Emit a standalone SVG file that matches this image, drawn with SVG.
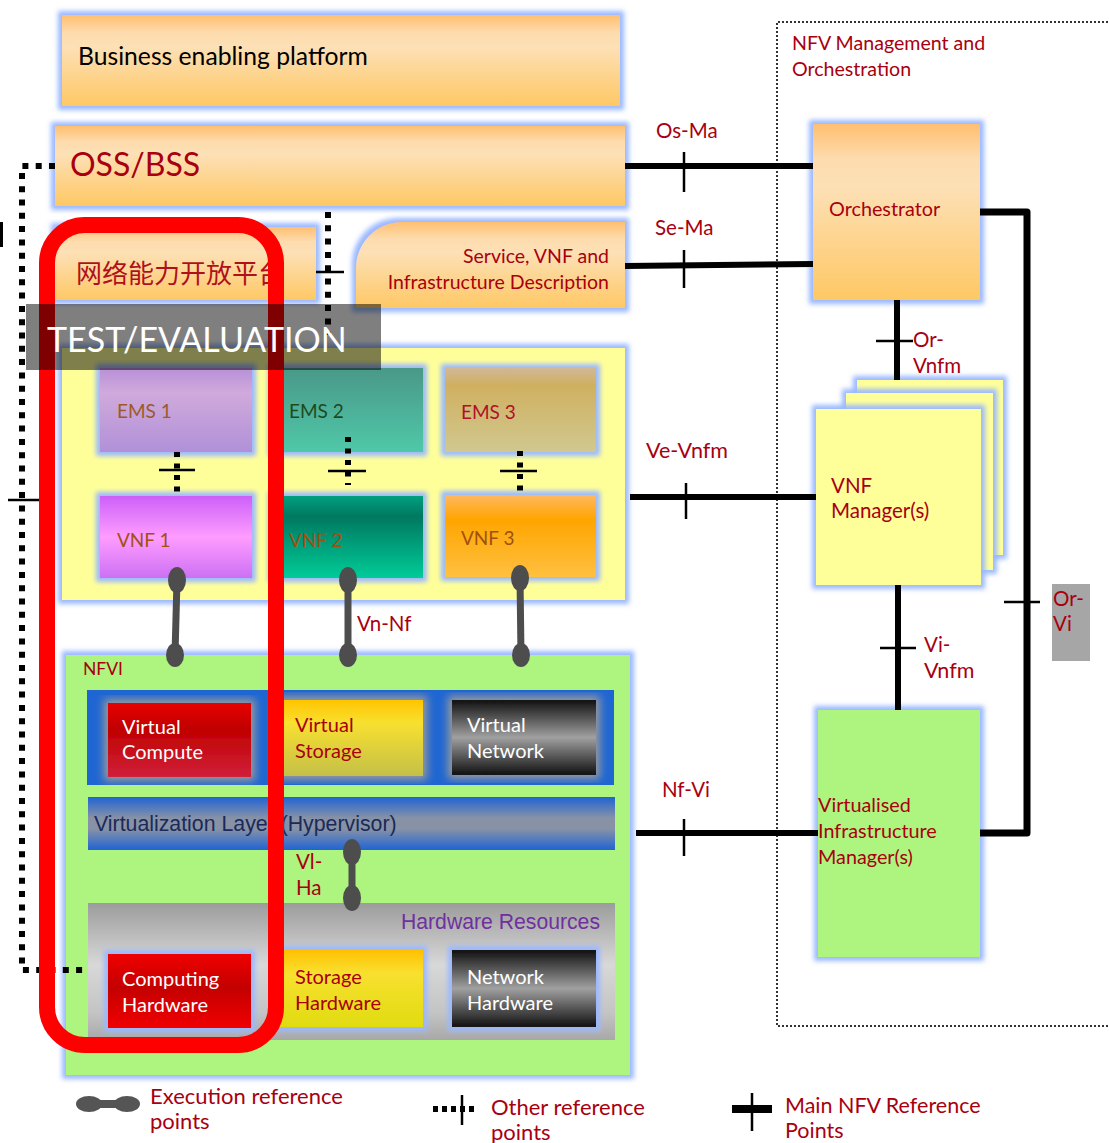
<svg xmlns="http://www.w3.org/2000/svg" width="1109" height="1143" viewBox="0 0 1109 1143">
<defs>
<style>
.t{font-family:Lato,"Liberation Sans",sans-serif;fill:#a8000f;}
.a{font-family:"Liberation Sans",Arial,sans-serif;}
.w{fill:#ffffff;}
.lb{font-size:20.5px;}
.bx{font-size:20px;}
.lg{font-size:22px;}
.main{stroke:#000;stroke-width:6;fill:none;}
.tick{stroke:#000;stroke-width:2.5;fill:none;}
.dot{stroke:#000;stroke-width:6;fill:none;stroke-dasharray:6 7.3;}
.dot2{stroke:#000;stroke-width:6;fill:none;stroke-dasharray:5 6.5;}
.exe{stroke:#4d4d4d;stroke-width:7;fill:none;}
.exeE{fill:#4d4d4d;}
</style>
<filter id="glow" x="-10%" y="-10%" width="120%" height="120%">
<feMorphology in="SourceAlpha" operator="dilate" radius="4" result="d"/>
<feGaussianBlur in="d" stdDeviation="2.5" result="b"/>
<feFlood flood-color="#9ab8ff"/>
<feComposite in2="b" operator="in" result="g"/>
<feMerge><feMergeNode in="g"/><feMergeNode in="SourceGraphic"/></feMerge>
</filter>
<filter id="glowG" x="-10%" y="-10%" width="120%" height="120%">
<feMorphology in="SourceAlpha" operator="dilate" radius="4" result="d"/>
<feGaussianBlur in="d" stdDeviation="4" result="b"/>
<feFlood flood-color="#9a9a9a"/>
<feComposite in2="b" operator="in" result="g"/>
<feMerge><feMergeNode in="g"/><feMergeNode in="SourceGraphic"/></feMerge>
</filter>
<linearGradient id="org" x1="0" y1="0" x2="0" y2="1">
<stop offset="0" stop-color="#ffbf70"/><stop offset="0.2" stop-color="#fddcae"/><stop offset="0.35" stop-color="#fde0b6"/><stop offset="1" stop-color="#fec864"/>
</linearGradient>
<linearGradient id="ems1" x1="0" y1="0" x2="0" y2="1"><stop offset="0" stop-color="#b890d8"/><stop offset="0.3" stop-color="#d0aadc"/><stop offset="1" stop-color="#b090d8"/></linearGradient>
<linearGradient id="ems2" x1="0" y1="0" x2="0" y2="1"><stop offset="0" stop-color="#4a9888"/><stop offset="1" stop-color="#50c8a8"/></linearGradient>
<linearGradient id="ems3" x1="0" y1="0" x2="0" y2="1"><stop offset="0" stop-color="#d0b898"/><stop offset="0.2" stop-color="#d0b060"/><stop offset="1" stop-color="#d0c890"/></linearGradient>
<linearGradient id="vnf1" x1="0" y1="0" x2="0" y2="1"><stop offset="0" stop-color="#cc60f8"/><stop offset="0.5" stop-color="#ff9cff"/><stop offset="1" stop-color="#cc70f4"/></linearGradient>
<linearGradient id="vnf2" x1="0" y1="0" x2="0" y2="1"><stop offset="0" stop-color="#00a080"/><stop offset="0.25" stop-color="#007860"/><stop offset="1" stop-color="#00cc98"/></linearGradient>
<linearGradient id="vnf3" x1="0" y1="0" x2="0" y2="1"><stop offset="0" stop-color="#ffb860"/><stop offset="0.3" stop-color="#ffa500"/><stop offset="1" stop-color="#ffc040"/></linearGradient>
<linearGradient id="red" x1="0" y1="0" x2="0" y2="1"><stop offset="0" stop-color="#e80000"/><stop offset="0.35" stop-color="#c00000"/><stop offset="1" stop-color="#d0203a"/></linearGradient>
<linearGradient id="red2" x1="0" y1="0" x2="0" y2="1"><stop offset="0" stop-color="#f00000"/><stop offset="0.45" stop-color="#c40000"/><stop offset="1" stop-color="#f00000"/></linearGradient>
<linearGradient id="yel" x1="0" y1="0" x2="0" y2="1"><stop offset="0" stop-color="#ffc400"/><stop offset="0.3" stop-color="#f8e030"/><stop offset="1" stop-color="#c4c048"/></linearGradient>
<linearGradient id="yel2" x1="0" y1="0" x2="0" y2="1"><stop offset="0" stop-color="#ffc000"/><stop offset="0.3" stop-color="#f8e030"/><stop offset="1" stop-color="#e0dc10"/></linearGradient>
<linearGradient id="blk" x1="0" y1="0" x2="0" y2="1"><stop offset="0" stop-color="#101010"/><stop offset="0.5" stop-color="#a0a0a0"/><stop offset="1" stop-color="#101010"/></linearGradient>
<linearGradient id="bar" x1="0" y1="0" x2="0" y2="1"><stop offset="0" stop-color="#1f64d4"/><stop offset="0.4" stop-color="#8892a6"/><stop offset="0.6" stop-color="#8892a6"/><stop offset="1" stop-color="#1f64d4"/></linearGradient>
<linearGradient id="hw" x1="0" y1="0" x2="0" y2="1"><stop offset="0" stop-color="#9c9c9c"/><stop offset="0.45" stop-color="#d8d8d8"/><stop offset="0.8" stop-color="#c4c4c4"/><stop offset="1" stop-color="#a8a8a8"/></linearGradient>
</defs>
<rect width="1109" height="1143" fill="#ffffff"/>

<g id="mano">
<path d="M1112,22 H777 V1026 H1112" fill="none" stroke="#333" stroke-width="2" stroke-dasharray="2 2"/>
<text class="t" x="792" y="50" font-size="19.6">NFV Management and</text>
<text class="t" x="792" y="76" font-size="19.6">Orchestration</text>
</g>

<g id="business">
<rect x="62" y="15" width="558" height="91" fill="url(#org)" filter="url(#glow)"/>
<text x="78" y="65" font-size="24.7" font-family="Lato,'Liberation Sans',sans-serif" fill="#000">Business enabling platform</text>
</g>
<g id="ossbss">
<rect x="55" y="126" width="570" height="80" fill="url(#org)" filter="url(#glow)"/>
<text class="t" x="70" y="176" font-size="32">OSS/BSS</text>
</g>
<g id="capability">
<rect x="55" y="227" width="261" height="73" fill="url(#org)" filter="url(#glow)"/>
<text x="76" y="283" font-size="26" font-family="'Noto Sans CJK SC',sans-serif" fill="#b0101a">网络能力开放平台</text>
</g>
<g id="description">
<path d="M402,222 H625 V308 H356 V268 A46,46 0 0 1 402,222 Z" fill="url(#org)" filter="url(#glow)"/>
<text class="t" x="609" y="263" font-size="19.5" text-anchor="end">Service, VNF and</text>
<text class="t" x="609" y="289" font-size="19.5" text-anchor="end">Infrastructure Description</text>
</g>

<g id="vnf-area">
<rect x="62" y="348" width="563" height="252" fill="#ffff99" filter="url(#glow)"/>
</g>
<g id="ems1"><rect x="100" y="368" width="152" height="84" fill="url(#ems1)" filter="url(#glow)"/><text x="117" y="418" font-size="19" font-family="Lato,sans-serif" fill="#9c5a28">EMS 1</text></g>
<g id="ems2"><rect x="272" y="368" width="151" height="84" fill="url(#ems2)" filter="url(#glow)"/><text x="289" y="418" font-size="19" font-family="Lato,sans-serif" fill="#1e4a1e">EMS 2</text></g>
<g id="ems3"><rect x="445" y="368" width="151" height="84" fill="url(#ems3)" filter="url(#glow)"/><text x="461" y="419" font-size="19" font-family="Lato,sans-serif" fill="#b0102a">EMS 3</text></g>
<g id="vnf1"><rect x="100" y="496" width="152" height="82" fill="url(#vnf1)" filter="url(#glow)"/><text x="117" y="547" font-size="19" font-family="Lato,sans-serif" fill="#a05010">VNF 1</text></g>
<g id="vnf2"><rect x="272" y="496" width="151" height="82" fill="url(#vnf2)" filter="url(#glow)"/><text x="289" y="547" font-size="19" font-family="Lato,sans-serif" fill="#a05010">VNF 2</text></g>
<g id="vnf3"><rect x="445" y="495" width="151" height="82" fill="url(#vnf3)" filter="url(#glow)"/><text x="461" y="545" font-size="19" font-family="Lato,sans-serif" fill="#a05010">VNF 3</text></g>

<g id="nfvi">
<rect x="66" y="655" width="564" height="420" fill="#aef57f" filter="url(#glow)"/>
<text class="t" x="83" y="675" font-size="17.5">NFVI</text>
</g>
<g id="virtual-resources">
<rect x="87" y="690" width="527" height="95" fill="#1f66d2"/>
</g>
<g id="vcompute"><rect x="108" y="703" width="143" height="74" fill="url(#red)" filter="url(#glowG)"/><text class="t w bx" x="122" y="734">Virtual</text><text class="t w bx" x="122" y="759">Compute</text></g>
<g id="vstorage"><rect x="280" y="700" width="143" height="76" fill="url(#yel)" filter="url(#glowG)"/><text class="t bx" x="295" y="732">Virtual</text><text class="t bx" x="295" y="758">Storage</text></g>
<g id="vnetwork"><rect x="452" y="700" width="144" height="75" fill="url(#blk)" filter="url(#glowG)"/><text class="t w bx" x="467" y="732">Virtual</text><text class="t w bx" x="467" y="758">Network</text></g>

<g id="hypervisor">
<rect x="88" y="797" width="527" height="53" fill="url(#bar)"/>
<text class="a" x="94" y="831" font-size="21.3" fill="#1a2a5a">Virtualization Layer (Hypervisor)</text>
</g>

<g id="hardware">
<rect x="88" y="903" width="527" height="137" fill="url(#hw)"/>
<text class="a" x="600" y="929" font-size="21.2" fill="#7030a0" text-anchor="end">Hardware Resources</text>
</g>
<g id="chw"><rect x="108" y="954" width="143" height="74" fill="url(#red2)" filter="url(#glow)"/><text class="t w bx" x="122" y="986">Computing</text><text class="t w bx" x="122" y="1012">Hardware</text></g>
<g id="shw"><rect x="280" y="950" width="143" height="77" fill="url(#yel2)" filter="url(#glow)"/><text class="t bx" x="295" y="984">Storage</text><text class="t bx" x="295" y="1010">Hardware</text></g>
<g id="nhw"><rect x="452" y="950" width="144" height="77" fill="url(#blk)" filter="url(#glow)"/><text class="t w bx" x="467" y="984">Network</text><text class="t w bx" x="467" y="1010">Hardware</text></g>

<g id="orchestrator">
<rect x="813" y="124" width="167" height="176" fill="url(#org)" filter="url(#glow)"/>
<text class="t" x="829" y="216" font-size="19.8">Orchestrator</text>
</g>
<g id="vnfm">
<rect x="857" y="380" width="146" height="175" fill="#ffff99" filter="url(#glow)"/>
<rect x="846" y="393" width="147" height="177" fill="#ffff99" filter="url(#glow)"/>
<rect x="816" y="409" width="165" height="176" fill="#ffff99" filter="url(#glow)"/>
<text class="t" x="831" y="493" font-size="20.5">VNF</text>
<text class="t" x="831" y="518" font-size="20.5">Manager(s)</text>
</g>
<g id="vim">
<rect x="818" y="710" width="162" height="247" fill="#aef57f" filter="url(#glow)"/>
<text class="t" x="818" y="812" font-size="19.8">Virtualised</text>
<text class="t" x="818" y="838" font-size="19.8">Infrastructure</text>
<text class="t" x="818" y="864" font-size="19.8">Manager(s)</text>
</g>

<g id="connectors">
<line class="main" x1="625" y1="166" x2="813" y2="166"/>
<line class="tick" x1="684" y1="152" x2="684" y2="192"/>
<text class="t lb" x="656" y="138">Os-Ma</text>
<line class="main" x1="625" y1="266" x2="813" y2="264"/>
<line class="tick" x1="684" y1="250" x2="684" y2="288"/>
<text class="t lb" x="655" y="235">Se-Ma</text>
<line class="main" x1="897" y1="300" x2="897" y2="380"/>
<line class="tick" x1="876" y1="341" x2="913" y2="341"/>
<text class="t lb" x="913" y="347">Or-</text>
<text class="t lb" x="913" y="373">Vnfm</text>
<line class="main" x1="630" y1="497" x2="816" y2="497"/>
<line class="tick" x1="686" y1="483" x2="686" y2="519"/>
<text class="t" x="646" y="458" font-size="21.5">Ve-Vnfm</text>
<line class="main" x1="898" y1="585" x2="898" y2="710"/>
<line class="tick" x1="880" y1="648" x2="916" y2="648"/>
<text class="t lb" x="924" y="652">Vi-</text>
<text class="t" x="924" y="678" font-size="21.5">Vnfm</text>
<line class="main" x1="636" y1="833" x2="818" y2="833"/>
<line class="tick" x1="684" y1="819" x2="684" y2="856"/>
<text class="t lb" x="662" y="797">Nf-Vi</text>
<path d="M980,212 H1027 V833 H980" stroke="#000" stroke-width="7" fill="none" stroke-linejoin="round"/>
<line class="tick" x1="1004" y1="602" x2="1040" y2="602"/>
<rect x="1052" y="584" width="38" height="77" fill="#a6a6a6"/>
<text class="t lb" x="1053" y="606">Or-</text>
<text class="t lb" x="1053" y="631">Vi</text>
<path class="dot" d="M55,166 H22 V970 H88"/>
<line class="tick" x1="8" y1="500" x2="40" y2="500"/>
<rect x="0" y="222" width="3" height="25" fill="#000"/>
<line class="dot" x1="328" y1="212" x2="328" y2="335"/>
<line class="tick" x1="316" y1="272" x2="344" y2="272"/>
<line class="dot2" x1="177" y1="452" x2="177" y2="496"/>
<line class="tick" x1="159" y1="470" x2="195" y2="470"/>
<line class="dot2" x1="348" y1="437" x2="348" y2="485"/>
<line class="tick" x1="328" y1="471" x2="366" y2="471"/>
<line class="dot2" x1="520" y1="451" x2="520" y2="496"/>
<line class="tick" x1="500" y1="471" x2="537" y2="471"/>
<line class="exe" x1="177" y1="580" x2="175" y2="655"/>
<ellipse class="exeE" cx="177" cy="580" rx="9" ry="13"/>
<ellipse class="exeE" cx="175" cy="655" rx="9" ry="12"/>
<line class="exe" x1="348" y1="580" x2="348" y2="655"/>
<ellipse class="exeE" cx="348" cy="580" rx="9" ry="13"/>
<ellipse class="exeE" cx="348" cy="655" rx="9" ry="12"/>
<line class="exe" x1="520" y1="578" x2="521" y2="655"/>
<ellipse class="exeE" cx="520" cy="578" rx="9" ry="13"/>
<ellipse class="exeE" cx="521" cy="655" rx="9" ry="12"/>
<text class="t lb" x="357" y="631">Vn-Nf</text>
<line class="exe" x1="352" y1="852" x2="352" y2="898"/>
<ellipse class="exeE" cx="352" cy="852" rx="9" ry="13"/>
<ellipse class="exeE" cx="352" cy="898" rx="9" ry="13"/>
<text class="t lb" x="296" y="869">Vl-</text>
<text class="t lb" x="296" y="895">Ha</text>
</g>

<g id="test-evaluation">
<rect x="47" y="225" width="229" height="820" rx="38" ry="38" fill="none" stroke="#ff0000" stroke-width="16"/>
<rect x="26" y="304" width="355" height="66" fill="#000" fill-opacity="0.5"/>
<text x="47" y="352" font-size="34" font-family="Lato,'Liberation Sans',sans-serif" fill="#ffffff">TEST/EVALUATION</text>
</g>

<g id="legend">
<rect x="89" y="1100" width="38" height="8" fill="#555"/>
<ellipse cx="89" cy="1104" rx="13" ry="8" fill="#555"/>
<ellipse cx="127" cy="1104" rx="13" ry="8" fill="#555"/>
<text class="t lg" x="150" y="1104">Execution reference</text>
<text class="t lg" x="150" y="1129">points</text>
<line x1="433" y1="1109" x2="477" y2="1109" stroke="#000" stroke-width="6" stroke-dasharray="5 4"/>
<line class="tick" x1="462" y1="1095" x2="462" y2="1125"/>
<text class="t lg" x="491" y="1115">Other reference</text>
<text class="t lg" x="491" y="1140">points</text>
<line x1="732" y1="1109" x2="772" y2="1109" stroke="#000" stroke-width="8"/>
<line class="tick" x1="752" y1="1093" x2="752" y2="1131"/>
<text class="t" x="785" y="1113" font-size="21.5">Main NFV Reference</text>
<text class="t" x="785" y="1138" font-size="21.5">Points</text>
</g>
</svg>
